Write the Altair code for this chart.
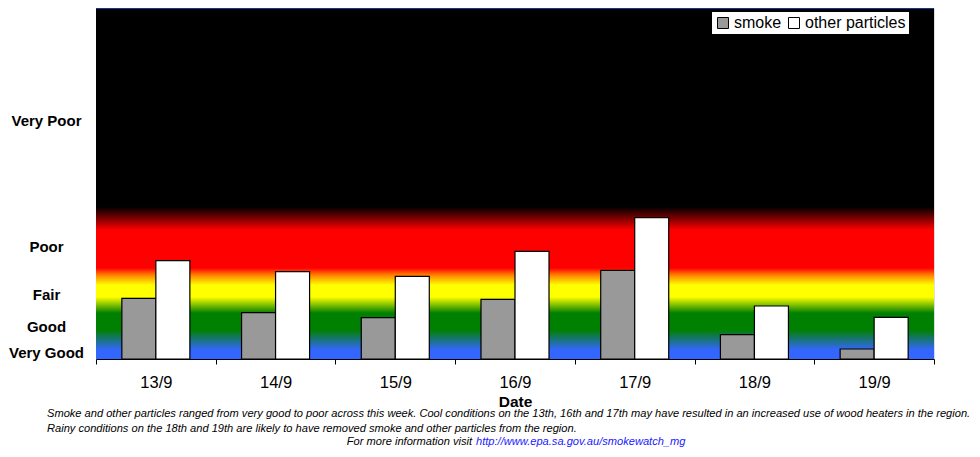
import json
import altair as alt
import pandas as pd

# ---- data (bar heights, in plot-height units) ----
dates = ["13/9", "14/9", "15/9", "16/9", "17/9", "18/9", "19/9"]
series = ["smoke", "other particles"]
smoke = [60.7, 46.3, 41.3, 59.7, 88.7, 24.3, 10.0]
other = [98.3, 87.3, 82.7, 107.7, 141.3, 53.0, 41.7]

level_names = ["Very Good", "Good", "Fair", "Poor", "Very Poor"]
level_pos = [7, 33, 65, 113, 239]

caption_lines = [
    "Smoke and other particles ranged from very good to poor across this week. Cool conditions on the 13th, 16th and 17th may have resulted in an increased use of wood heaters in the region.",
    "Rainy conditions on the 18th and 19th are likely to have removed smoke and other particles from the region.",
]
info_text = "For more information visit"
link_text = "http://www.epa.sa.gov.au/smokewatch_mg"

W, H = 838, 351
FONT = "Liberation Sans"
CAP_SIZE = 11.1

rows = []
for d, s, o in zip(dates, smoke, other):
    rows.append({"date": d, "series": series[0], "value": s})
    rows.append({"date": d, "series": series[1], "value": o})
df = pd.DataFrame(rows)

label_map = json.dumps({str(p): n for p, n in zip(level_pos, level_names)})

# ---- background gradient ----
def off(h):
    return h / H

grad = alt.LinearGradient(
    gradient="linear",
    x1=0, x2=0, y1=1, y2=0,
    stops=[
        alt.GradientStop(color="#3366ff", offset=0),
        alt.GradientStop(color="#3366ff", offset=off(9)),
        alt.GradientStop(color="#008000", offset=off(29)),
        alt.GradientStop(color="#008000", offset=off(46)),
        alt.GradientStop(color="#ffff00", offset=off(62)),
        alt.GradientStop(color="#ffff00", offset=off(74)),
        alt.GradientStop(color="#ff8000", offset=off(84)),
        alt.GradientStop(color="#ff0000", offset=off(91)),
        alt.GradientStop(color="#ff0000", offset=off(129)),
        alt.GradientStop(color="#000000", offset=off(152)),
        alt.GradientStop(color="#000000", offset=1),
    ],
)

bg = alt.Chart(alt.Data(values=[{"a": 1}])).mark_rect(color=grad).encode(
    x=alt.value(0), x2=alt.value(W), y=alt.value(0), y2=alt.value(H)
)

top_line = alt.Chart(alt.Data(values=[{"a": 1}])).mark_rule(
    color="#2244cc", strokeWidth=1.5
).encode(x=alt.value(0), x2=alt.value(W), y=alt.value(0))

bars = alt.Chart(df).mark_bar(stroke="black", strokeWidth=1.2).encode(
    x=alt.X(
        "date:N",
        sort=dates,
        scale=alt.Scale(paddingInner=0, paddingOuter=0),
        axis=alt.Axis(
            title="Date",
            labelAngle=0,
            tickBand="extent",
            tickSize=5,
            tickColor="black",
            domainColor="black",
            labelColor="black",
            labelFont=FONT,
            labelFontSize=16.5,
            labelPadding=10,
            titleFont=FONT,
            titleFontSize=15.5,
            titleFontWeight="bold",
            titleColor="black",
            titlePadding=4,
        ),
    ),
    xOffset=alt.XOffset(
        "series:N", sort=series, scale=alt.Scale(paddingInner=0, paddingOuter=0.76)
    ),
    y=alt.Y(
        "value:Q",
        scale=alt.Scale(domain=[0, H], nice=False, zero=True),
        axis=alt.Axis(
            title=None,
            values=level_pos,
            labelExpr=f"{label_map}[datum.value]",
            grid=False,
            ticks=False,
            domain=False,
            labelAlign="center",
            labelBaseline="middle",
            labelPadding=50,
            labelFont=FONT,
            labelFontSize=15,
            labelFontWeight="bold",
            labelColor="black",
        ),
    ),
    color=alt.Color(
        "series:N",
        sort=series,
        scale=alt.Scale(domain=series, range=["#999999", "#ffffff"]),
        legend=alt.Legend(
            title=None,
            orient="none",
            legendX=616,
            legendY=4,
            direction="horizontal",
            fillColor="white",
            padding=3,
            symbolType="square",
            symbolSize=121,
            symbolStrokeColor="black",
            symbolStrokeWidth=1,
            symbolOpacity=1,
            labelFont=FONT,
            labelFontSize=16,
            labelColor="black",
            labelOffset=3,
            columnPadding=4,
        ),
    ),
)

cap_y = [406, 421]
captions = alt.layer(*[
    alt.Chart(alt.Data(values=[{"t": t}])).mark_text(
        align="left", baseline="middle", font=FONT, fontStyle="italic",
        fontSize=CAP_SIZE, color="black"
    ).encode(x=alt.value(-49), y=alt.value(yy), text="t:N")
    for t, yy in zip(caption_lines, cap_y)
])

info = alt.Chart(alt.Data(values=[{"t": info_text}])).mark_text(
    align="right", baseline="middle", font=FONT, fontStyle="italic",
    fontSize=CAP_SIZE, color="black"
).encode(x=alt.value(376), y=alt.value(434), text="t:N")

link = alt.Chart(alt.Data(values=[{"t": link_text}])).mark_text(
    align="left", baseline="middle", font=FONT, fontStyle="italic",
    fontSize=CAP_SIZE, color="#2020ff"
).encode(x=alt.value(380), y=alt.value(434), text="t:N")

chart = alt.layer(bg, bars, top_line, captions, info, link).properties(
    width=W,
    height=H,
    autosize=alt.AutoSizeParams(type="none"),
    padding={"left": 88, "top": 0, "right": 38, "bottom": 90},
).configure_view(stroke=None).configure(background="white")

chart.save("out.html", embed_options={"renderer": "svg", "actions": False})
